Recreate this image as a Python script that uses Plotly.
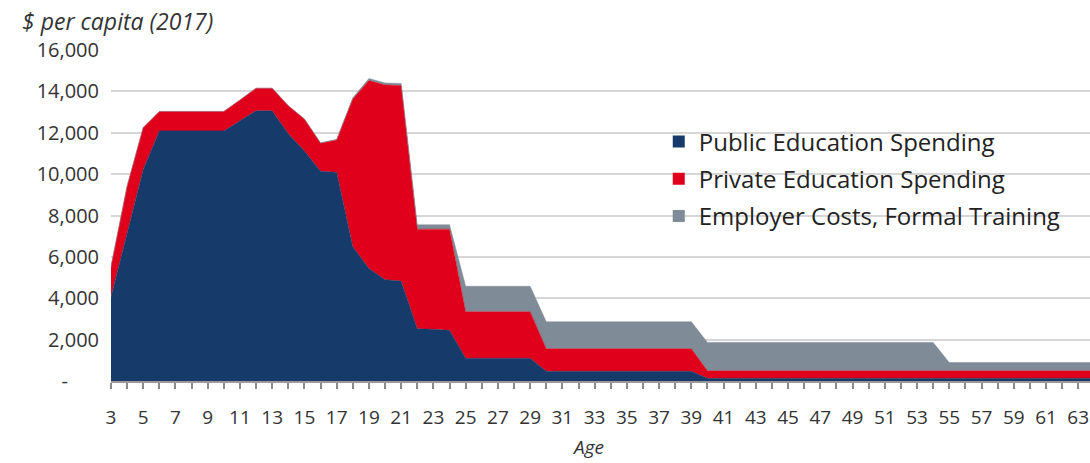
import plotly.graph_objects as go

ages = list(range(3, 65))

public = [4060, 7150, 10220, 12090, 12090, 12090, 12090, 12090, 12580, 13060,
          13060, 11950, 11120, 10140, 10090, 6490, 5440, 4900, 4830, 2520,
          2500, 2450, 1100, 1100, 1100, 1100, 1100, 470, 470, 470,
          470, 470, 470, 470, 470, 470, 470, 130, 130, 130,
          130, 130, 130, 130, 130, 130, 130, 130, 130, 130,
          130, 130, 130, 130, 130, 130, 130, 130, 130, 130,
          130, 130]

private = [1460, 2260, 2030, 940, 940, 940, 940, 940, 1000, 1090,
           1090, 1350, 1540, 1350, 1560, 7140, 9080, 9410, 9450, 4820,
           4840, 4890, 2250, 2250, 2250, 2250, 2250, 1090, 1090, 1090,
           1090, 1090, 1090, 1090, 1090, 1090, 1090, 360, 360, 360,
           360, 360, 360, 360, 360, 360, 360, 360, 360, 360,
           360, 360, 360, 360, 360, 360, 360, 360, 360, 360,
           360, 360]

employer = [0, 0, 0, 0, 0, 0, 0, 0, 0, 0,
            0, 0, 0, 30, 30, 60, 100, 100, 100, 210,
            210, 210, 1230, 1230, 1230, 1230, 1230, 1300, 1300, 1300,
            1300, 1300, 1300, 1300, 1300, 1300, 1300, 1375, 1375, 1375,
            1375, 1375, 1375, 1375, 1375, 1375, 1375, 1375, 1375, 1375,
            1375, 1375, 400, 400, 400, 400, 400, 400, 400, 400,
            400, 400]

series_names = ["Public Education Spending", "Private Education Spending",
                "Employer Costs, Formal Training"]
series_colors = ["#163B6B", "#E1001B", "#7F8B97"]

y_ticks = list(range(0, 16001, 2000))
y_ticktext = ["-" + "\u00a0" * 6] + [f"{v:,}" for v in y_ticks[1:]]
x_ticks = list(range(3, 64))
x_ticktext = [str(a) if a % 2 == 1 else "" for a in x_ticks]

FONT = "'Open Sans', 'Noto Sans', sans-serif"

fig = go.Figure()
for name, vals, col in zip(series_names, [public, private, employer], series_colors):
    fig.add_trace(go.Scatter(
        x=ages, y=vals, name=name, stackgroup="one", mode="lines",
        line=dict(width=0.5, color=col), fillcolor=col, showlegend=False,
        hoverinfo="x+y+name"))
for i, (name, col) in enumerate(zip(series_names, series_colors)):
    fig.add_trace(go.Scatter(
        x=[None], y=[None], name=name, mode="markers", legendgroup=f"g{i}",
        marker=dict(symbol="square", size=16, color=col), showlegend=True))

fig.update_layout(
    width=1090, height=463, autosize=False,
    margin=dict(l=111, r=0, t=50, b=82, autoexpand=False),
    paper_bgcolor="white", plot_bgcolor="white",
    font=dict(family=FONT, color="#333333"),
    title=dict(text="$ per capita (2017)", x=22 / 1090, xanchor="left",
               y=1 - 22 / 463, yanchor="middle", xref="container", yref="container",
               font=dict(family=FONT, size=23, style="italic", color="#333333")),
    legend=dict(x=0.5595, y=0.79, xanchor="left", yanchor="top",
                font=dict(family=FONT, size=24, color="#222222"),
                bgcolor="rgba(0,0,0,0)", tracegroupgap=3, itemsizing="constant"),
    xaxis=dict(range=[3, 63.73], tickmode="array", tickvals=x_ticks, ticktext=x_ticktext,
               ticks="outside", ticklen=6, tickwidth=2, tickcolor="#8a8a8a",
               showline=True, linecolor="#9a9a9a", linewidth=2, showgrid=False,
               zeroline=False, tickfont=dict(size=19, color="#333333"),
               ticklabelstandoff=12, automargin=False),
    yaxis=dict(range=[0, 16000], tickmode="array", tickvals=y_ticks, ticktext=y_ticktext,
               showgrid=True, gridcolor="#d6d6d6", gridwidth=2, zeroline=False,
               showline=False, ticks="", tickfont=dict(size=20, color="#333333"),
               ticklabelstandoff=11, automargin=False),
    annotations=[dict(text="Age", xref="paper", yref="paper",
                      x=(588 - 111) / 979, y=-(447 - 381) / 331,
                      xanchor="center", yanchor="middle", showarrow=False,
                      font=dict(family=FONT, size=19, style="italic", color="#333333"))],
)

fig.write_html("out.html", config={"displayModeBar": False},
               post_script="document.body.style.margin='0';document.body.style.overflow='hidden';")
